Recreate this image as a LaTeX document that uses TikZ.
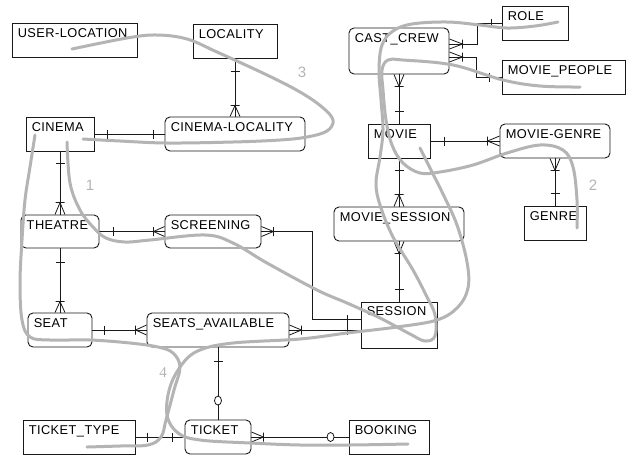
\documentclass[tikz,border=0pt]{standalone}
\usepackage{fontspec}
\setmainfont{Liberation Sans}
\newfontfamily\lblfont[LetterSpace=3.5]{Liberation Sans}
\newfontfamily\numserif{Liberation Serif}
\usetikzlibrary{calc}
\definecolor{pen}{RGB}{180,180,180}
\definecolor{ink}{RGB}{25,25,25}
\tikzset{
  ent/.style={draw=ink, line width=0.9pt, fill=white, inner sep=0pt},
  rent/.style={ent, rounded corners=5pt},
  conn/.style={draw=ink, line width=0.8pt},
  hand/.style={draw=pen, line width=3pt, line cap=round, line join=round},
  num/.style={text=pen, inner sep=0pt, font=\fontsize{15}{15}\selectfont},
  lbl/.style={anchor=base west, inner sep=0pt, xshift=6pt, yshift=-15pt, font=\lblfont\fontsize{12.8}{14}\selectfont}
}
\newcommand\crowN[2]{\draw[conn] ($#1+(-5,0)$) -- ($#1+(0,-#2)$) -- ($#1+(5,0)$) ($#1+(-4.5,-#2)$) -- ($#1+(4.5,-#2)$);}
\newcommand\crowS[2]{\draw[conn] ($#1+(-5,0)$) -- ($#1+(0,#2)$) -- ($#1+(5,0)$) ($#1+(-4.5,#2)$) -- ($#1+(4.5,#2)$);}
\newcommand\crowW[2]{\draw[conn] ($#1+(0,-5)$) -- ($#1+(-#2,0)$) -- ($#1+(0,5)$) ($#1+(-#2,-4.5)$) -- ($#1+(-#2,4.5)$);}
\newcommand\crowE[2]{\draw[conn] ($#1+(0,-5)$) -- ($#1+(#2,0)$) -- ($#1+(0,5)$) ($#1+(#2,-4.5)$) -- ($#1+(#2,4.5)$);}
\newcommand\tkv[1]{\draw[conn] ($#1+(-4.5,0)$) -- ($#1+(4.5,0)$);}
\newcommand\tkh[1]{\draw[conn] ($#1+(0,-4.5)$) -- ($#1+(0,4.5)$);}
\newcommand\zro[1]{\draw[conn,fill=white] ($#1$) circle[x radius=3.5pt, y radius=4.5pt];}
\begin{document}
\begin{tikzpicture}[x=1pt,y=-1pt]
\useasboundingbox (0,0) rectangle (629,456);
\fill[white] (0,0) rectangle (629,456);

% entities
\node[ent,  minimum width=125, minimum height=34, label={[lbl]north west:USER-LOCATION}] (uloc) at (74.5,40) {};
\node[ent,  minimum width=84,  minimum height=34, label={[lbl]north west:LOCALITY}] (locality) at (235,41) {};
\node[ent,  minimum width=68,  minimum height=34, label={[lbl]north west:CINEMA}] (cinema) at (60,134) {};
\node[rent, minimum width=140, minimum height=34, label={[lbl]north west:CINEMA-LOCALITY}] (cinloc) at (235,134) {};
\node[rent, minimum width=78,  minimum height=33, label={[lbl]north west:THEATRE}] (theatre) at (60,231.5) {};
\node[rent, minimum width=96,  minimum height=33, label={[lbl]north west:SCREENING}] (screening) at (213,231.5) {};
\node[rent, minimum width=64,  minimum height=34, label={[lbl]north west:SEAT}] (seat) at (60,330) {};
\node[rent, minimum width=142, minimum height=34, label={[lbl]north west:SEATS\_AVAILABLE}] (seatsav) at (218,330) {};
\node[ent,  minimum width=112, minimum height=34, label={[lbl]north west:TICKET\_TYPE}] (ttype) at (79,437) {};
\node[rent, minimum width=66,  minimum height=34, label={[lbl]north west:TICKET}] (ticket) at (218,437) {};
\node[ent,  minimum width=80,  minimum height=34, label={[lbl]north west:BOOKING}] (booking) at (389,437) {};
\node[ent,  minimum width=76,  minimum height=46, label={[lbl,yshift=1pt]north west:SESSION}] (session) at (399,325) {};
\node[rent, minimum width=130, minimum height=34, label={[lbl]north west:MOVIE\_SESSION}] (msession) at (399,224) {};
\node[ent,  minimum width=62,  minimum height=34, label={[lbl]north west:MOVIE}] (movie) at (399,141) {};
\node[rent, minimum width=100, minimum height=46, label={[lbl]north west:CAST\_CREW}] (cast) at (399,51) {};
\node[ent,  minimum width=62,  minimum height=34, label={[lbl]north west:GENRE}] (genre) at (555,223) {};
\node[rent, minimum width=110, minimum height=34, label={[lbl]north west:MOVIE-GENRE}] (mgenre) at (555,141) {};
\node[ent,  minimum width=66,  minimum height=34, label={[lbl]north west:ROLE}] (role) at (535,23) {};
\node[ent,  minimum width=123, minimum height=34, label={[lbl]north west:MOVIE\_PEOPLE}] (mpeople) at (563.5,77) {};

% connectors
\draw[conn] (locality) -- (cinloc);
\draw[conn] (cinema) -- (cinloc);
\draw[conn] (cinema) -- (theatre);
\draw[conn] (theatre) -- (screening);
\draw[conn] (theatre) -- (seat);
\draw[conn] (screening.east) -- ++(51,0) |- ($(session.west)+(0,-6)$);
\draw[conn] (seat) -- (seatsav);
\draw[conn] (seatsav.east) -- (seatsav.east -| session.west);
\draw[conn] (seatsav) -- (ticket);
\draw[conn] (ttype) -- (ticket);
\draw[conn] (ticket) -- (booking);
\draw[conn] (msession) -- (session);
\draw[conn] (movie) -- (msession);
\draw[conn] (movie) -- (mgenre);
\draw[conn] (mgenre) -- (genre);
\draw[conn] (cast) -- (movie);
\draw[conn] ($(cast.east)+(0,-7)$) -- ++(28,0) |- (role.west);
\draw[conn] ($(cast.east)+(0,6)$) -- ++(27,0) |- (mpeople.west);

% end marks
\tkv{(locality.south)+(0,13)} \crowN{(cinloc.north)}{11}
\tkh{(cinema.east)+(13,0)} \tkh{(cinloc.west)+(-11,0)}
\tkv{(cinema.south)+(0,12)} \crowN{(theatre.north)}{12}
\tkh{(theatre.east)+(14,0)} \crowW{(screening.west)}{11}
\tkv{(theatre.south)+(0,14)} \crowN{(seat.north)}{11}
\crowE{(screening.east)}{12}
\draw[conn] ($(session.west)+(-13,-10)$) -- ($(session.west)+(-13,10)$);
\tkh{(seat.east)+(12,0)} \crowW{(seatsav.west)}{11}
\crowE{(seatsav.east)}{12}
\tkv{(seatsav.south)+(0,14)} \zro{(ticket.north)+(0,-19)}
\tkh{(ttype.east)+(12,0)} \tkh{(ticket.west)+(-12,0)}
\crowE{(ticket.east)}{12} \zro{(booking.west)+(-18,0)}
\crowS{(msession.south)}{12} \tkv{(session.north)+(0,-12)}
\tkv{(movie.south)+(0,12)} \crowN{(msession.north)}{12}
\tkh{(movie.east)+(14,0)} \crowW{(mgenre.west)}{12}
\crowS{(mgenre.south)}{12} \tkv{(genre.north)+(0,-12)}
\crowS{(cast.south)}{12} \tkv{(movie.north)+(0,-12)}
\crowE{(cast.east)+(0,-7)}{13} \tkh{(role.west)+(-10,0)}
\crowE{(cast.east)+(0,6)}{13} \tkh{(mpeople.west)+(-12,0)}

% hand-drawn query paths
\draw[hand] plot[smooth, tension=0.6] coordinates {(72,49) (127,38) (157,35) (187,39) (217,52) (267,75) (300,92) (322,107) (333,120) (327,131) (307,137) (280,140) (233,142) (167,143) (120,141) (83,139)};
\draw[hand] plot[smooth, tension=0.6] coordinates {(67,142) (70,183) (80,210) (93,227) (106,238) (125,242) (150,240) (205,235) (233,243) (267,263) (317,290) (347,303) (380,318) (410,334) (425,341) (435,336) (435,315) (427,297) (413,270) (393,237) (380,205) (376,183) (380,157) (383,130) (381,100) (379,70) (382,45) (393,31) (412,24) (447,22) (480,25) (507,28) (535,26) (558,22)};
\draw[hand] plot[smooth, tension=0.6] coordinates {(577,228) (577,200) (573,167) (563,150) (540,145) (507,153) (473,165) (440,172) (420,173) (403,163) (392,145) (386,120) (383,90) (382,70) (388,60) (403,60) (453,65) (503,80) (540,86) (580,87)};
\draw[hand] plot[smooth, tension=0.6] coordinates {(408,444) (350,445) (300,445) (250,443) (200,440) (178,433) (167,415) (170,387) (183,363) (200,350) (233,343) (300,339) (347,333) (397,327) (437,320) (458,307) (468,288) (467,262) (457,225) (443,194) (432,172) (420,148)};
\draw[hand] plot[smooth, tension=0.6] coordinates {(35,135) (30,167) (25,200) (22,240) (20,283) (22,320) (30,337) (50,340) (90,340) (130,343) (158,347) (173,353) (180,367) (174,390) (166,420) (161,437) (148,445) (120,446) (87,447)};

% query numbers
\node[num] (n1) at (90,185) {1};
\node[num] (n2) at (593,185) {2};
\node[num] (n3) at (302,72) {3};
\node[num, font=\fontsize{15}{15}\selectfont\numserif] (n4) at (163,373) {4};
\end{tikzpicture}
\end{document}
